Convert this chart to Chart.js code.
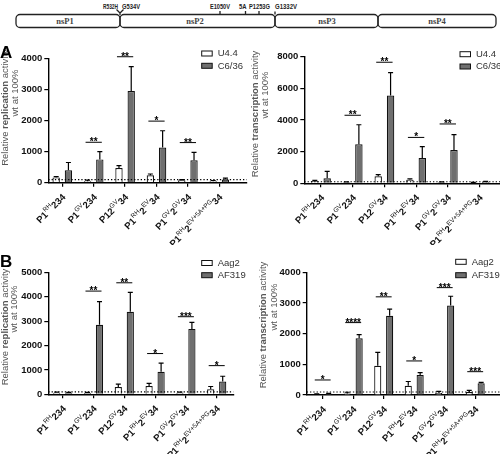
<!DOCTYPE html>
<html lang="en">
<head>
<meta charset="UTF-8">
<title>nsP replication / transcription</title>
<script src="https://cdn.jsdelivr.net/npm/chart.js"></script>
<style>
  body { margin: 0; background: #fff; }
  #fig { position: relative; width: 500px; height: 454px; overflow: hidden; font-family: "Liberation Sans", Arial, sans-serif; }
  #fig canvas { position: absolute; }
  .letter { position: absolute; font-weight: bold; font-size: 17px; color: #000; line-height: 1; }
</style>
</head>
<body>
<div id="fig">
  <svg width="500" height="36" style="position:absolute;left:0;top:0">
    <g fill="none" stroke="#222" stroke-width="1.3">
      <rect x="16" y="14.5" width="104" height="13" rx="4"/>
      <rect x="120" y="14.5" width="155" height="13" rx="4"/>
      <rect x="275" y="14.5" width="103" height="13" rx="4"/>
      <rect x="378" y="14.5" width="118" height="13" rx="4"/>
      <path d="M116.5 9.5 L120 13 L123.5 9.5 M120 13 L120 15"/>
      <path d="M220 11 V14.5 M245.5 11 V14.5 M259 11 V14.5 M275 11.5 V14.5"/>
    </g>
    <g font-family="Liberation Sans, Arial, sans-serif" font-size="7" font-weight="bold" fill="#222">
      <text x="103" y="8.5" textLength="15" lengthAdjust="spacingAndGlyphs">R532H</text>
      <text x="122" y="8.5" textLength="18" lengthAdjust="spacingAndGlyphs">G534V</text>
      <text x="210" y="8.5" textLength="20" lengthAdjust="spacingAndGlyphs">E1050V</text>
      <text x="239" y="8.5" textLength="7.5" lengthAdjust="spacingAndGlyphs">5A</text>
      <text x="249" y="8.5" textLength="21" lengthAdjust="spacingAndGlyphs">P1253G</text>
      <text x="275" y="8.5" textLength="22" lengthAdjust="spacingAndGlyphs">G1332V</text>
    </g>
    <g font-family="Liberation Serif, serif" font-size="8.5" font-weight="bold" fill="#444" text-anchor="middle">
      <text x="65" y="24">nsP1</text>
      <text x="195" y="24">nsP2</text>
      <text x="327" y="24">nsP3</text>
      <text x="437" y="24">nsP4</text>
    </g>
  </svg>
  <canvas id="aRep" width="250" height="205" style="left:0;top:40px"></canvas>
  <canvas id="aTra" width="250" height="205" style="left:250px;top:40px"></canvas>
  <canvas id="bRep" width="250" height="209" style="left:0;top:245px"></canvas>
  <canvas id="bTra" width="250" height="209" style="left:250px;top:245px"></canvas>
  <div class="letter" style="left:0;top:44px">A</div>
  <div class="letter" style="left:0;top:253px">B</div>
</div>

<script>
// x tick labels: [text, superscript?]
const xLabels = [
  [['P1', 0], ['RH', 1], ['234', 0]],
  [['P1', 0], ['GV', 1], ['234', 0]],
  [['P12', 0], ['GV', 1], ['34', 0]],
  [['P1', 0], ['RH', 1], ['2', 0], ['EV', 1], ['34', 0]],
  [['P1', 0], ['GV', 1], ['2', 0], ['GV', 1], ['34', 0]],
  [['P1', 0], ['RH', 1], ['2', 0], ['EV+5A+PG', 1], ['34', 0]]
];
const baseLine = 100; // wt = 100%

// A, replication
const aRepU44 = [170, 50, 470, 240, 80, 50];
const aRepU44Err = [25, 35, 80, 40, 20, 20];
const aRepC636 = [400, 750, 2950, 1130, 720, 100];
const aRepC636Err = [250, 250, 780, 540, 255, 50];
const aRepSig = [null, [1300, '**'], [4050, '**'], [1980, '*'], [1290, '**'], null];

// A, transcription
const aTraU44 = [150, 60, 450, 230, 70, 40];
const aTraU44Err = [40, 30, 100, 50, 20, 20];
const aTraC636 = [320, 2470, 5550, 1600, 2100, 80];
const aTraC636Err = [430, 1230, 1450, 720, 980, 40];
const aTraSig = [null, [4300, '**'], [7650, '**'], [2900, '*'], [3750, '**'], null];

// B, replication
const bRepAag2 = [60, 50, 300, 340, 60, 210];
const bRepAag2Err = [30, 30, 120, 110, 30, 110];
const bRepAF319 = [50, 2850, 3380, 920, 2680, 520];
const bRepAF319Err = [30, 950, 800, 360, 270, 220];
const bRepSig = [null, [4230, '**'], [4570, '**'], [1670, '*'], [3180, '***'], [1175, '*']];

// B, transcription
const bTraAag2 = [20, 50, 950, 300, 70, 100];
const bTraAag2Err = [15, 40, 440, 140, 50, 50];
const bTraAF319 = [40, 1850, 2580, 650, 2920, 380];
const bTraAF319Err = [15, 120, 220, 80, 300, 30];
const bTraSig = [[490, '*'], [2360, '****'], [3200, '**'], [1110, '*'], [3500, '***'], [760, '***']];

const FONT = '"Liberation Sans", Arial, sans-serif';

const overlay = {
  id: 'overlay',
  afterDraw(chart, args, o) {
    const ctx = chart.ctx, xs = chart.scales.x, ys = chart.scales.y, ca = chart.chartArea;
    ctx.save();
    ctx.strokeStyle = '#000';
    ctx.fillStyle = '#000';

    // error bars (upper only)
    chart.data.datasets.forEach((ds, di) => {
      chart.getDatasetMeta(di).data.forEach((bar, i) => {
        const top = ys.getPixelForValue(ds.data[i].y + ds.err[i]);
        ctx.lineWidth = 1.2;
        ctx.beginPath();
        ctx.moveTo(bar.x, bar.y);
        ctx.lineTo(bar.x, top);
        ctx.moveTo(bar.x - 2.5, top);
        ctx.lineTo(bar.x + 2.5, top);
        ctx.stroke();
      });
    });

    // dotted 100% line
    const yb = ys.getPixelForValue(baseLine);
    ctx.lineWidth = 1.1;
    ctx.setLineDash([1.3, 2]);
    ctx.beginPath();
    ctx.moveTo(ca.left, yb);
    ctx.lineTo(ca.right, yb);
    ctx.stroke();
    ctx.setLineDash([]);

    // significance
    const m0 = chart.getDatasetMeta(0).data, m1 = chart.getDatasetMeta(1).data;
    o.sig.forEach((s, i) => {
      if (!s) return;
      const y = ys.getPixelForValue(s[0]);
      const x0 = m0[i].x - 2, x1 = m1[i].x + 2;
      ctx.lineWidth = 1;
      ctx.beginPath();
      ctx.moveTo(x0, y);
      ctx.lineTo(x1, y);
      ctx.stroke();
      ctx.font = 'bold 10px ' + FONT;
      ctx.textAlign = 'center';
      ctx.textBaseline = 'alphabetic';
      ctx.fillText(s[1], (x0 + x1) / 2, y + 3);
    });

    // rotated x labels with superscripts
    xLabels.forEach((parts, i) => {
      const px = xs.getPixelForValue(i);
      ctx.save();
      ctx.translate(px + 4, ca.bottom + 15);
      ctx.rotate(-Math.PI / 4);
      const fonts = parts.map(p => (p[1] ? '6.5px ' : 'bold 9.5px ') + FONT);
      const widths = parts.map((p, k) => { ctx.font = fonts[k]; return ctx.measureText(p[0]).width; });
      let cur = -widths.reduce((a, b) => a + b, 0);
      ctx.textAlign = 'left';
      ctx.fillStyle = '#111';
      parts.forEach((p, k) => {
        ctx.font = fonts[k];
        ctx.fillText(p[0], cur, p[1] ? -4.5 : 0);
        cur += widths[k];
      });
      ctx.restore();
    });

    // legend
    const lg = o.legend;
    chart.data.datasets.forEach((ds, di) => {
      const by = lg.y[di];
      ctx.fillStyle = ds.backgroundColor;
      ctx.fillRect(lg.x, by, 10.5, 5);
      ctx.lineWidth = 1;
      ctx.strokeStyle = '#111';
      ctx.strokeRect(lg.x, by, 10.5, 5);
      ctx.fillStyle = '#333';
      ctx.font = '9.5px ' + FONT;
      ctx.textAlign = 'left';
      ctx.textBaseline = 'middle';
      ctx.fillText(ds.label, lg.x + 16, by + 2.8);
    });

    // y title, two lines, middle word bold
    const t = o.title;
    ctx.fillStyle = '#555';
    ctx.textBaseline = 'middle';
    const line1 = [['Relative ', ''], [t.word, 'bold '], [' activity', '']];
    ctx.save();
    ctx.translate(t.x1, t.c1);
    ctx.rotate(-Math.PI / 2);
    const w1 = line1.map(p => { ctx.font = p[1] + '9.5px ' + FONT; return ctx.measureText(p[0]).width; });
    let cx = -w1.reduce((a, b) => a + b, 0) / 2;
    ctx.textAlign = 'left';
    line1.forEach((p, k) => { ctx.font = p[1] + '9.5px ' + FONT; ctx.fillText(p[0], cx, 0); cx += w1[k]; });
    ctx.restore();
    ctx.save();
    ctx.translate(t.x2, t.c2);
    ctx.rotate(-Math.PI / 2);
    ctx.font = '9.5px ' + FONT;
    ctx.textAlign = 'center';
    ctx.fillText('wt at 100%', 0, 0);
    ctx.restore();

    ctx.restore();
  }
};

function makeChart(id, p) {
  const cv = document.getElementById(id);
  const W = cv.width, H = cv.height;
  const xMin = -(p.g0 - p.left) / p.sp;
  const xMax = (p.right - p.g0) / p.sp;
  const mk = (v) => v.map((y, i) => ({ x: i, y: y }));
  return new Chart(cv, {
    type: 'bar',
    data: {
      datasets: [
        { label: p.names[0], data: mk(p.s0), err: p.e0, backgroundColor: '#ffffff', borderColor: '#111', borderWidth: 1.2,
          categoryPercentage: 0.78, barPercentage: 0.6 },
        { label: p.names[1], data: mk(p.s1), err: p.e1, backgroundColor: '#6f6f6f', borderColor: '#111', borderWidth: 1.2,
          categoryPercentage: 0.78, barPercentage: 0.6 }
      ]
    },
    options: {
      responsive: false,
      animation: false,
      layout: { padding: { left: 0, top: p.top, right: W - p.right, bottom: 0 } },
      plugins: {
        legend: { display: false },
        tooltip: { enabled: false },
        overlay: { sig: p.sig, legend: p.legend, title: p.title }
      },
      scales: {
        x: {
          type: 'linear', min: xMin, max: xMax, offset: false,
          grid: { offset: false, drawOnChartArea: false, tickLength: 4, color: '#000', lineWidth: 1.2 },
          border: { color: '#000', width: 1.4 },
          ticks: { display: false },
          afterBuildTicks: (s) => { s.ticks = xLabels.map((l, i) => ({ value: i })); },
          afterFit: (s) => { s.height = H - p.bottom; }
        },
        y: {
          min: 0, max: p.yMax,
          ticks: { stepSize: p.step, color: '#111', padding: 2, font: { family: FONT, size: 9.5, weight: 'bold' },
            callback: (v) => String(v) },
          grid: { drawOnChartArea: false, tickLength: 4, color: '#000', lineWidth: 1.2 },
          border: { color: '#000', width: 1.4 },
          afterFit: (s) => { s.width = p.left; }
        }
      }
    },
    plugins: [overlay]
  });
}

makeChart('aRep', {
  left: 48.3, right: 246.7, top: 18.3, bottom: 142.7, g0: 62.3, sp: 31.4,
  yMax: 4000, step: 1000, names: ['U4.4', 'C6/36'],
  s0: aRepU44, e0: aRepU44Err, s1: aRepC636, e1: aRepC636Err, sig: aRepSig,
  legend: { x: 201.7, y: [11, 23.3] },
  title: { word: 'replication', x1: 5, c1: 67.5, x2: 15, c2: 53 }
});
makeChart('aTra', {
  left: 54.3, right: 250, top: 16.7, bottom: 143.3, g0: 71, sp: 31.7,
  yMax: 8000, step: 2000, names: ['U4.4', 'C6/36'],
  s0: aTraU44, e0: aTraU44Err, s1: aTraC636, e1: aTraC636Err, sig: aTraSig,
  legend: { x: 210, y: [11.7, 24] },
  title: { word: 'transcription', x1: 5, c1: 74, x2: 15, c2: 55 }
});
makeChart('bRep', {
  left: 48.3, right: 233.3, top: 27.3, bottom: 149.3, g0: 62.7, sp: 30.8,
  yMax: 5000, step: 1000, names: ['Aag2', 'AF319'],
  s0: bRepAag2, e0: bRepAag2Err, s1: bRepAF319, e1: bRepAF319Err, sig: bRepSig,
  legend: { x: 201.7, y: [15.5, 27.7] },
  title: { word: 'replication', x1: 5, c1: 82, x2: 14, c2: 64 }
});
makeChart('bTra', {
  left: 56.7, right: 250, top: 27.3, bottom: 150, g0: 72.7, sp: 30.5,
  yMax: 4000, step: 1000, names: ['Aag2', 'AF319'],
  s0: bTraAag2, e0: bTraAag2Err, s1: bTraAF319, e1: bTraAF319Err, sig: bTraSig,
  legend: { x: 205.7, y: [14.3, 27.7] },
  title: { word: 'transcription', x1: 13.3, c1: 80, x2: 24, c2: 62 }
});
</script>
</body>
</html>
